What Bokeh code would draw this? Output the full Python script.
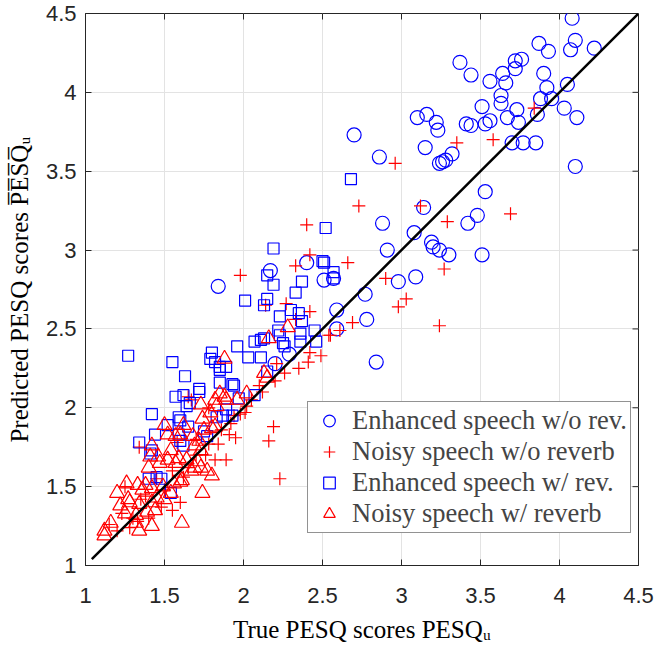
import math
from bokeh.plotting import figure
from bokeh.models import Legend, LegendItem, FixedTicker, CustomJSTickFormatter, Range1d
from bokeh.embed import file_html
from bokeh.resources import INLINE

# ---- data ----
enh_norev_x = [4.08, 3.87, 3.93, 4.10, 4.07, 4.22, 3.37, 3.44, 3.56, 3.64, 3.66, 3.72, 3.76, 3.72, 3.90,
               3.92, 4.05, 3.88, 3.95, 3.63, 3.63, 3.51, 3.73, 3.67, 3.74, 3.86, 4.03, 4.11, 3.10, 3.16,
               3.22, 3.23, 3.41, 3.44, 3.53, 3.56, 2.70, 2.86, 3.15, 3.70, 3.77, 3.85, 3.24, 3.26, 3.28,
               3.32, 4.10, 3.53, 3.14, 2.88, 3.08, 3.42, 3.48, 3.19, 3.20, 3.24, 3.30, 3.51, 2.91, 3.09,
               2.98, 2.77, 2.78, 2.84, 2.59, 2.59, 2.40, 2.51, 2.57, 2.17, 1.84, 2.29, 2.20]
enh_norev_y = [4.47, 4.31, 4.26, 4.33, 4.27, 4.28, 4.19, 4.11, 4.07, 4.12, 4.06, 4.20, 4.21, 4.15, 4.12,
               4.03, 4.05, 3.96, 3.96, 3.98, 3.93, 3.91, 3.89, 3.84, 3.81, 3.86, 3.90, 3.84, 3.84, 3.86,
               3.81, 3.76, 3.80, 3.79, 3.80, 3.82, 3.73, 3.59, 3.65, 3.68, 3.68, 3.68, 3.55, 3.56, 3.57,
               3.61, 3.53, 3.37, 3.27, 3.17, 3.11, 3.17, 3.22, 3.05, 3.02, 3.00, 2.97, 2.97, 3.00, 2.83,
               2.80, 2.72, 2.56, 2.29, 2.62, 2.50, 2.92, 2.81, 2.82, 2.87, 2.77, 2.34, 2.28]

noisy_norev_x = [2.96, 3.35, 3.58, 3.84, 2.73, 3.12, 3.29, 3.69, 2.66, 2.90, 3.27, 3.03, 2.98, 2.69, 2.61,
                 3.24, 2.40, 2.42, 2.42, 2.54, 2.42, 2.49, 2.41, 1.98, 2.33, 2.14, 2.27, 2.33, 2.35, 2.26,
                 2.21, 2.20, 2.10, 2.01, 1.94, 2.19, 2.16, 2.23, 1.84, 1.95, 1.91, 1.82, 1.89, 1.60, 1.65,
                 1.34, 1.28, 1.23, 1.33, 2.02, 1.98, 1.67, 1.45, 1.55, 1.70, 1.76, 1.50, 1.38, 1.30, 1.78,
                 1.62, 1.20, 1.48, 1.70, 1.58, 1.86, 1.25, 1.40, 1.65, 1.92, 2.05, 2.12, 1.78, 1.15, 1.35,
                 1.55, 2.55]
noisy_norev_y = [3.55, 3.68, 3.70, 3.90, 3.28, 3.28, 3.18, 3.23, 2.92, 2.82, 2.88, 2.69, 2.64, 2.54, 2.49,
                 2.52, 3.16, 2.97, 2.61, 2.46, 2.35, 2.33, 2.29, 2.84, 2.90, 2.65, 2.66, 2.56, 2.25, 2.22,
                 2.28, 2.17, 2.14, 1.97, 1.95, 1.88, 1.79, 1.55, 1.77, 1.81, 1.83, 1.67, 1.67, 1.40, 2.07,
                 1.75, 1.24, 1.33, 1.28, 2.01, 1.96, 2.05, 1.55, 1.60, 1.70, 1.70, 1.48, 1.44, 1.30, 1.77,
                 1.56, 1.22, 1.37, 1.80, 1.78, 1.86, 1.50, 1.30, 1.62, 1.90, 2.05, 2.10, 2.00, 1.26, 1.42,
                 1.35, 2.46]

enh_rev_x = [2.68, 2.52, 2.19, 2.15, 2.19, 2.50, 2.51, 2.57, 2.57, 2.37, 2.33, 2.01, 2.15, 2.13, 2.23,
             2.30, 2.35, 2.37, 2.45, 2.46, 2.22, 2.23, 2.25, 2.26, 2.36, 2.36, 2.13, 2.11, 2.07, 1.96,
             2.03, 2.11, 1.27, 1.55, 1.63, 1.80, 1.79, 1.82, 1.85, 1.85, 1.89, 1.85, 1.93, 1.94, 1.72,
             1.72, 1.57, 1.62, 1.64, 1.66, 1.97, 2.07, 1.89, 1.93, 1.83, 1.87, 1.42, 1.59, 1.60, 1.52,
             1.65, 1.59, 1.60, 1.62, 1.44, 1.34, 1.42, 1.41, 1.75, 1.77, 1.40, 1.45, 1.48, 1.54, 2.15]
enh_rev_y = [3.45, 3.14, 3.01, 2.84, 2.78, 2.93, 2.92, 2.86, 2.82, 2.80, 2.73, 2.68, 2.69, 2.65, 2.58,
             2.62, 2.60, 2.55, 2.49, 2.42, 2.49, 2.46, 2.41, 2.39, 2.47, 2.42, 2.44, 2.43, 2.42, 2.39,
             2.32, 2.32, 2.33, 2.29, 2.20, 2.35, 2.31, 2.29, 2.26, 2.24, 2.26, 2.16, 2.15, 2.14, 2.12,
             2.10, 2.07, 2.08, 2.01, 2.03, 2.06, 2.08, 1.99, 1.95, 1.94, 1.95, 1.96, 1.94, 1.92, 1.89,
             1.88, 1.83, 1.79, 1.76, 1.83, 1.78, 1.73, 1.71, 1.85, 1.82, 1.55, 1.56, 1.55, 1.46, 2.23]

noisy_rev_x = [2.28, 2.16, 1.88, 2.13, 2.15, 2.02, 1.96, 1.88, 1.85, 1.82, 1.79, 1.89, 1.73, 1.83, 1.74,
               1.82, 1.80, 1.75, 1.50, 1.62, 1.52, 1.60, 1.68, 1.72, 1.69, 1.73, 1.42, 1.57, 1.41, 1.46,
               1.54, 1.59, 1.64, 1.71, 1.73, 1.77, 1.80, 1.67, 1.40, 1.47, 1.52, 1.57, 1.26, 1.33, 1.36,
               1.27, 1.38, 1.42, 1.49, 1.56, 1.61, 1.69, 1.74, 1.20, 1.22, 1.28, 1.34, 1.42, 1.45, 1.50,
               1.25, 1.32, 1.39, 1.44, 1.32, 1.42, 1.16, 1.12, 1.12, 1.34, 1.61, 1.54, 1.60]
noisy_rev_y = [2.51, 2.44, 2.31, 2.22, 2.19, 2.09, 2.05, 2.07, 2.09, 2.05, 1.97, 2.05, 2.02, 2.01, 1.93,
               1.88, 1.87, 1.86, 1.89, 1.89, 1.83, 1.83, 1.82, 1.79, 1.76, 1.73, 1.76, 1.82, 1.69, 1.69,
               1.73, 1.68, 1.67, 1.66, 1.62, 1.60, 1.57, 1.60, 1.62, 1.65, 1.67, 1.65, 1.52, 1.51, 1.48,
               1.42, 1.51, 1.49, 1.50, 1.52, 1.54, 1.62, 1.46, 1.46, 1.38, 1.40, 1.39, 1.40, 1.43, 1.42,
               1.33, 1.32, 1.34, 1.35, 1.27, 1.25, 1.27, 1.22, 1.19, 1.22, 1.27, 1.46, 1.53]

ref_line_x = [1.04, 4.5]
ref_line_y = [1.04, 4.5]

axis_min, axis_max = 1, 4.5
tick_values = [1, 1.5, 2, 2.5, 3, 3.5, 4, 4.5]

series_labels = ["Enhanced speech w/o rev.", "Noisy speech w/o reverb",
                 "Enhanced speech w/ rev.", "Noisy speech w/ reverb"]

x_label = "True PESQ scores PESQ\u1d64"
y_label = "Predicted PESQ scores P\u0305E\u0305S\u0305Q\u0305\u1d64"

# ---- figure ----
AX = "#262626"
p = figure(width=658, height=649, x_range=Range1d(axis_min, axis_max), y_range=Range1d(axis_min, axis_max),
           output_backend="svg", toolbar_location=None,
           min_border_left=85, min_border_right=20, min_border_top=13, min_border_bottom=84)
p.background_fill_color = "white"
p.border_fill_color = "white"
p.outline_line_color = AX
p.outline_line_width = 1

fmt = CustomJSTickFormatter(code="return tick.toString();")
for ax in (p.xaxis[0], p.yaxis[0]):
    ax.ticker = FixedTicker(ticks=tick_values)
    ax.formatter = fmt
    ax.major_tick_in = 6
    ax.major_tick_out = 0
    ax.minor_tick_line_color = None
    ax.axis_line_color = AX
    ax.major_tick_line_color = AX
    ax.major_label_text_font = "Liberation Sans"
    ax.major_label_text_font_size = "22px"
    ax.major_label_text_color = AX
    ax.axis_label_text_font = "Liberation Serif"
    ax.axis_label_text_font_size = "25px"
    ax.axis_label_text_font_style = "normal"
    ax.axis_label_text_color = "black"

p.xaxis[0].axis_label = x_label
p.yaxis[0].axis_label = y_label
p.xaxis[0].major_label_standoff = 22
p.yaxis[0].major_label_standoff = 9
p.xaxis[0].axis_label_standoff = 10
p.yaxis[0].axis_label_standoff = 10

p.grid.ticker = FixedTicker(ticks=tick_values)
p.grid.grid_line_color = "#e3e3e3"
p.grid.grid_line_width = 1

# inward ticks on the top and right edges of the box
inner_ticks = tick_values[1:-1]
p.scatter(inner_ticks, [axis_max] * len(inner_ticks), marker="dash", size=12, angle=math.pi / 2,
          line_color=AX, line_width=1)
p.scatter([axis_max] * len(inner_ticks), inner_ticks, marker="dash", size=12,
          line_color=AX, line_width=1)

r1 = p.scatter(enh_norev_x, enh_norev_y, marker="circle", size=14, fill_color=None,
               line_color="#0000ff", line_width=1.2)
r2 = p.scatter(noisy_norev_x, noisy_norev_y, marker="cross", size=13, line_color="#ff0000", line_width=1.2)
r3 = p.scatter(enh_rev_x, enh_rev_y, marker="square", size=11, fill_color=None,
               line_color="#0000ff", line_width=1.2)
r4 = p.scatter(noisy_rev_x, noisy_rev_y, marker="triangle", size=15, fill_color=None,
               line_color="#ff0000", line_width=1.2)
p.line(ref_line_x, ref_line_y, line_color="black", line_width=2.5)

legend = Legend(items=[LegendItem(label=series_labels[0], renderers=[r1]),
                       LegendItem(label=series_labels[1], renderers=[r2]),
                       LegendItem(label=series_labels[2], renderers=[r3]),
                       LegendItem(label=series_labels[3], renderers=[r4])],
                location=(222, 32))
legend.label_text_font = "Liberation Serif"
legend.label_text_font_size = "26.5px"
legend.label_height = 29
legend.glyph_height = 29
legend.glyph_width = 36
legend.label_standoff = 5
legend.spacing = 0
legend.padding = 3
legend.margin = 0
legend.border_line_color = AX
legend.border_line_width = 1
legend.background_fill_color = "white"
legend.background_fill_alpha = 1
p.add_layout(legend, "center")

open("out.html", "w").write(file_html(p, INLINE))
